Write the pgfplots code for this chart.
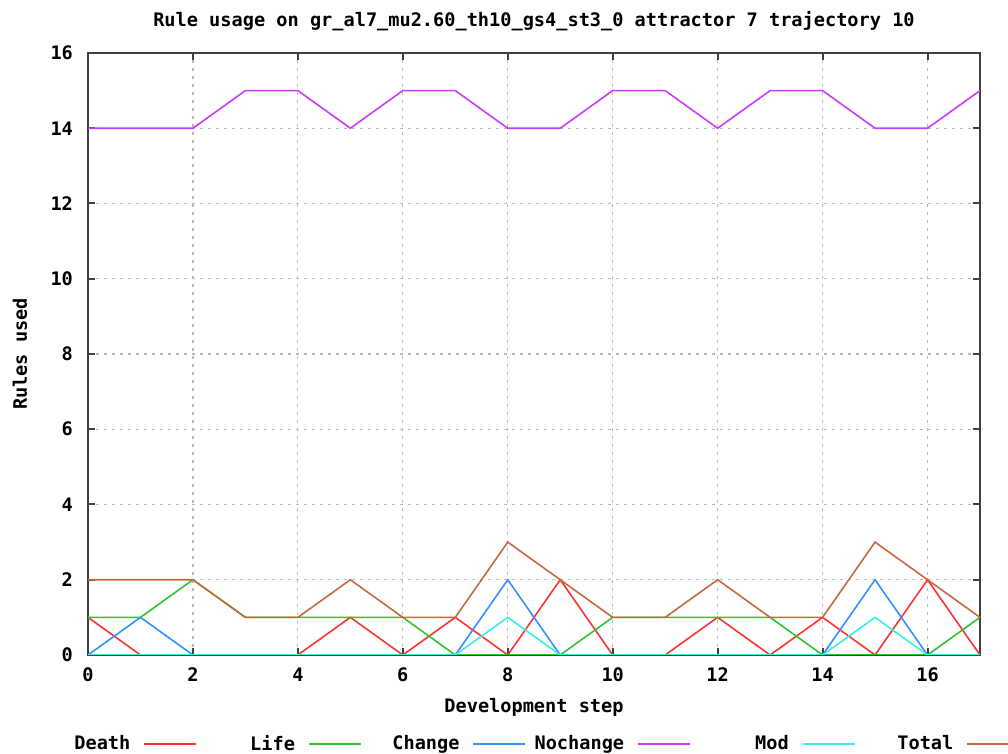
\documentclass[border=0pt]{standalone}
\usepackage{fontspec}
\setmainfont{DejaVu Sans Mono}
\usepackage{pgfplots}
\pgfplotsset{compat=1.18}
\definecolor{cDeath}{RGB}{255,50,50}
\definecolor{cLife}{RGB}{50,195,50}
\definecolor{cChange}{RGB}{50,145,255}
\definecolor{cNochange}{RGB}{200,60,255}
\definecolor{cMod}{RGB}{60,235,235}
\definecolor{cTotal}{RGB}{200,105,60}
\begin{document}
\begin{tikzpicture}[font=\bfseries\fontsize{9.3}{10}\selectfont]
\begin{axis}[
  scale only axis, width=446pt, height=301pt,
  xmin=0, xmax=17, ymin=0, ymax=16,
  xtick={0,2,...,16}, ytick={0,2,...,16},
  tick align=inside, major tick length=3.5pt,
  grid=major,
  major grid style={black!27, line width=0.6pt, dash pattern=on 1.5pt off 2.5pt},
  axis line style={black!75, line width=1pt},
  tick style={black!75, line width=1pt},
  /pgf/number format/assume math mode=true,
  title={Rule usage on gr\_al7\_mu2.60\_th10\_gs4\_st3\_0 attractor 7 trajectory 10},
  title style={at={(axis description cs:0.5,1.0333)}, anchor=center},
  xlabel={Development step},
  xlabel style={at={(axis description cs:0.5,-0.0864)}, anchor=center},
  ylabel={Rules used},
  ylabel style={at={(axis description cs:-0.0762,0.5)}, anchor=center},
  yticklabel style={xshift=-4pt},
  xticklabel style={yshift=-3pt},
  legend columns=6,
  legend plot pos=right,
  legend style={at={(axis description cs:-0.0628,-0.1478)}, anchor=west, draw=none, fill=none,
    inner sep=0pt, column sep=0pt, nodes={inner sep=0pt}},
  legend image code/.code={\draw[#1] (0pt,0pt) -- (26pt,0pt);},
  every axis plot/.append style={line width=0.8pt},
]
\addplot[cDeath] coordinates {(0,1)(1,0)(2,0)(3,0)(4,0)(5,1)(6,0)(7,1)(8,0)(9,2)(10,0)(11,0)(12,1)(13,0)(14,1)(15,0)(16,2)(17,0)};
\addlegendentry{\makebox[55.5pt][r]{\strut Death\hspace{6.5pt}}}
\addplot[cLife] coordinates {(0,1)(1,1)(2,2)(3,1)(4,1)(5,1)(6,1)(7,0)(8,0)(9,0)(10,1)(11,1)(12,1)(13,1)(14,0)(15,0)(16,0)(17,1)};
\addlegendentry{\makebox[55.5pt][r]{\strut Life\hspace{6.5pt}}}
\addplot[cChange] coordinates {(0,0)(1,1)(2,0)(3,0)(4,0)(5,0)(6,0)(7,0)(8,2)(9,0)(10,0)(11,0)(12,0)(13,0)(14,0)(15,2)(16,0)(17,0)};
\addlegendentry{\makebox[55.5pt][r]{\strut Change\hspace{6.5pt}}}
\addplot[cNochange] coordinates {(0,14)(1,14)(2,14)(3,15)(4,15)(5,14)(6,15)(7,15)(8,14)(9,14)(10,15)(11,15)(12,14)(13,15)(14,15)(15,14)(16,14)(17,15)};
\addlegendentry{\makebox[55.5pt][r]{\strut Nochange\hspace{6.5pt}}}
\addplot[cMod] coordinates {(0,0)(1,0)(2,0)(3,0)(4,0)(5,0)(6,0)(7,0)(8,1)(9,0)(10,0)(11,0)(12,0)(13,0)(14,0)(15,1)(16,0)(17,0)};
\addlegendentry{\makebox[55.5pt][r]{\strut Mod\hspace{6.5pt}}}
\addplot[cTotal] coordinates {(0,2)(1,2)(2,2)(3,1)(4,1)(5,2)(6,1)(7,1)(8,3)(9,2)(10,1)(11,1)(12,2)(13,1)(14,1)(15,3)(16,2)(17,1)};
\addlegendentry{\makebox[55.5pt][r]{\strut Total\hspace{6.5pt}}}
\end{axis}
\pgfresetboundingbox
\path[use as bounding box] (-44pt,-49.5pt) rectangle (460pt,327.5pt);
\end{tikzpicture}
\end{document}
